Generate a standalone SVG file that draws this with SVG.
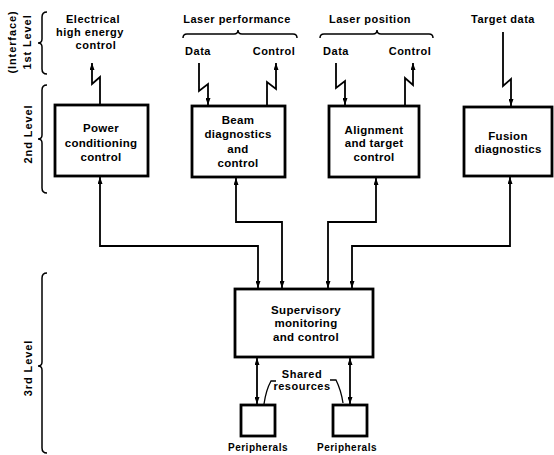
<svg xmlns="http://www.w3.org/2000/svg" width="554" height="455" viewBox="0 0 554 455">
<defs>
<marker id="ah" viewBox="0 0 7 5" refX="7" refY="2.5" markerWidth="7" markerHeight="5" markerUnits="userSpaceOnUse" orient="auto-start-reverse">
<path d="M0,0 L7,2.5 L0,5 z" fill="#000"/>
</marker>
</defs>
<style>
text{font-family:"Liberation Sans",Arial,sans-serif;font-weight:bold;fill:#000;text-anchor:middle}
.t{font-size:11px;letter-spacing:0.5px}
.b{font-size:11.5px;letter-spacing:0.3px}
.lv{font-size:11px;letter-spacing:0.9px}
.box{fill:#fff;stroke:#000;stroke-width:2.8}
.c{fill:none;stroke:#000;stroke-width:1.8;marker-start:url(#ah);marker-end:url(#ah)}
.z{fill:none;stroke:#000;stroke-width:1.8;stroke-linejoin:miter}
.br{fill:none;stroke:#000;stroke-width:1.5}
.ld{fill:none;stroke:#000;stroke-width:1.3}
</style>
<rect width="554" height="455" fill="#fff"/>

<g id="levels">
<text class="lv" transform="translate(16,42) rotate(-90)">(Interface)</text>
<text class="lv" transform="translate(31,42) rotate(-90)">1st Level</text>
<path class="br" d="M47,12 Q42,12 42,17 L42,39 Q42,43 38,43 Q42,43 42,47 L42,69 Q42,74 47,74"/>
<text class="lv" transform="translate(32,134) rotate(-90)">2nd Level</text>
<path class="br" d="M47,85 Q42,85 42,90 L42,135 Q42,139 38,139 Q42,139 42,143 L42,188 Q42,193 47,193"/>
<text class="lv" transform="translate(32,368) rotate(-90)">3rd Level</text>
<path class="br" d="M47,273 Q42,273 42,278 L42,362 Q42,366 38,366 Q42,366 42,370 L42,448 Q42,453 47,453"/>
</g>

<g id="interface">
<text class="t" x="93" y="23">Electrical</text>
<text class="t" x="90" y="36">high energy</text>
<text class="t" x="96" y="49">control</text>
<text class="t" x="237" y="23">Laser performance</text>
<path class="br" d="M183,38 Q183,34 187,34 L234,34 Q238,34 238,30 Q238,34 242,34 L293,34 Q297,34 297,38"/>
<text class="t" x="198" y="55">Data</text>
<text class="t" x="274" y="55">Control</text>
<text class="t" x="370" y="23">Laser position</text>
<path class="br" d="M320,38 Q320,34 324,34 L373,34 Q377,34 377,30 Q377,34 381,34 L429,34 Q433,34 433,38"/>
<text class="t" x="336" y="55">Data</text>
<text class="t" x="410" y="55">Control</text>
<text class="t" x="503" y="23">Target data</text>
</g>

<g id="power">
<rect class="box" x="55" y="105" width="93" height="71"/>
<text class="b" x="101" y="132">Power</text>
<text class="b" x="101" y="147">conditioning</text>
<text class="b" x="101" y="161">control</text>
</g>
<g id="beam">
<rect class="box" x="192" y="106" width="93" height="71"/>
<text class="b" x="238" y="124">Beam</text>
<text class="b" x="238" y="138">diagnostics</text>
<text class="b" x="238" y="153">and</text>
<text class="b" x="238" y="167">control</text>
</g>
<g id="alignment">
<rect class="box" x="329" y="106" width="90" height="71"/>
<text class="b" x="374" y="134">Alignment</text>
<text class="b" x="374" y="147">and target</text>
<text class="b" x="374" y="161">control</text>
</g>
<g id="fusion">
<rect class="box" x="464" y="107" width="88" height="69"/>
<text class="b" x="508" y="140">Fusion</text>
<text class="b" x="508" y="153">diagnostics</text>
</g>
<g id="supervisory">
<rect class="box" x="235" y="289" width="138" height="68"/>
<text class="b" x="306" y="314">Supervisory</text>
<text class="b" x="306" y="327">monitoring</text>
<text class="b" x="306" y="341">and control</text>
</g>
<g id="peripherals1">
<rect class="box" x="241" y="405" width="34" height="31"/>
<text class="t" x="258" y="451" style="font-size:10px">Peripherals</text>
</g>
<g id="peripherals2">
<rect class="box" x="333" y="405" width="34" height="31"/>
<text class="t" x="347" y="451" style="font-size:10px">Peripherals</text>
</g>
<g id="shared">
<text class="t" x="302" y="378">Shared</text>
<text class="t" x="302" y="390">resources</text>
<path class="ld" d="M276,381 L271,381 Q266,390 264,404"/>
<path class="ld" d="M330,380 L336,380 Q341,390 343,403"/>
</g>

<g id="connectors">
<path class="z" d="M100,106 L100,77 L92,84 L92,63" marker-end="url(#ah)"/>
<path class="z" d="M199,63 L199,91 L208,84 L208,105" marker-end="url(#ah)"/>
<path class="z" d="M267,106 L267,82 L276,89 L276,63" marker-end="url(#ah)"/>
<path class="z" d="M336,63 L336,88 L345,81 L345,105" marker-end="url(#ah)"/>
<path class="z" d="M405,106 L405,78 L413,85 L413,63" marker-end="url(#ah)"/>
<path class="z" d="M503,32 L503,86 L511,79 L511,106" marker-end="url(#ah)"/>
<path class="c" d="M100,177 V246 H258 V288"/>
<path class="c" d="M236,178 V222 H282 V288"/>
<path class="c" d="M376,178 V222 H328 V288"/>
<path class="c" d="M510,177 V246 H352 V288"/>
<path class="c" d="M257,358 V404"/>
<path class="c" d="M350,358 V404"/>
</g>
</svg>
